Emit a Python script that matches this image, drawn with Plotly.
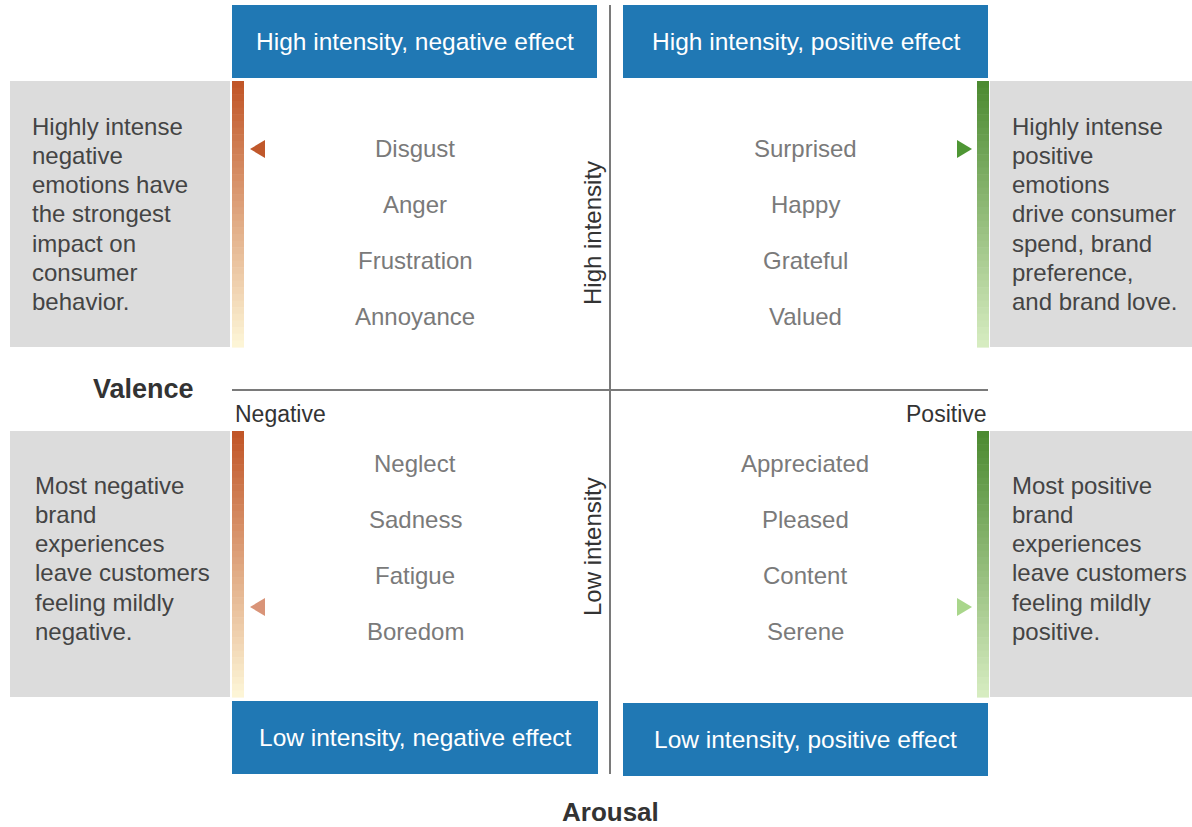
import plotly.graph_objects as go

W, H = 1192, 827
FONT = "Liberation Sans, Arial, sans-serif"

# ---- content ----
quadrant_titles = ["High intensity, negative effect", "High intensity, positive effect",
                   "Low intensity, negative effect", "Low intensity, positive effect"]
neg_high = ["Disgust", "Anger", "Frustration", "Annoyance"]
pos_high = ["Surprised", "Happy", "Grateful", "Valued"]
neg_low = ["Neglect", "Sadness", "Fatigue", "Boredom"]
pos_low = ["Appreciated", "Pleased", "Content", "Serene"]
note_neg_high = ["Highly intense", "negative", "emotions have", "the strongest",
                 "impact on", "consumer", "behavior."]
note_pos_high = ["Highly intense", "positive", "emotions", "drive consumer",
                 "spend, brand", "preference,", "and brand love."]
note_neg_low = ["Most negative", "brand", "experiences", "leave customers",
                "feeling mildly", "negative."]
note_pos_low = ["Most positive", "brand", "experiences", "leave customers",
                "feeling mildly", "positive."]
axis_labels = {"valence": "Valence", "arousal": "Arousal", "neg": "Negative", "pos": "Positive",
               "high": "High intensity", "low": "Low intensity"}

BLUE = "#2078b4"
GRAY = "#dcdcdc"
ORANGE_TOP, ORANGE_BOT = (193, 86, 40), (253, 245, 214)
GREEN_TOP, GREEN_BOT = (76, 138, 49), (214, 236, 192)

fig = go.Figure()
shapes = []
ann = []

def rect(x0, y0, x1, y1, color):
    shapes.append(dict(type="rect", xref="x", yref="y", x0=x0, x1=x1, y0=y0, y1=y1,
                       fillcolor=color, line=dict(width=0), layer="below"))

def grad_bar(x0, x1, y0, y1, top, bot, n=40):
    h = (y1 - y0) / n
    for i in range(n):
        t = i / (n - 1)
        c = tuple(round(top[k] + (bot[k] - top[k]) * t) for k in range(3))
        rect(x0, y0 + i * h, x1, y0 + (i + 1) * h + 0.6, "rgb(%d,%d,%d)" % c)

# blue title boxes
boxes = [(232, 5, 597, 78), (623, 5, 988, 78), (232, 701, 598, 774), (623, 703, 988, 776)]
for (x0, y0, x1, y1), t in zip(boxes, quadrant_titles):
    rect(x0, y0, x1, y1, BLUE)
    ann.append(dict(x=(x0 + x1) / 2, y=(y0 + y1) / 2, text=t, showarrow=False,
                    font=dict(family=FONT, size=24.5, color="white"), xanchor="center", yanchor="middle"))

# gray note boxes
gray_boxes = [(10, 81, 230, 347), (990, 81, 1192, 347), (10, 431, 230, 697), (990, 431, 1192, 697)]
notes = [note_neg_high, note_pos_high, note_neg_low, note_pos_low]
note_x = [30, 1010, 33, 1010]
note_y0 = [126, 126, 485, 485]
LINE = 29.3
for (x0, y0, x1, y1), lines, nx, ny in zip(gray_boxes, notes, note_x, note_y0):
    rect(x0, y0, x1, y1, GRAY)
    for i, ln in enumerate(lines):
        ann.append(dict(x=nx, y=ny + i * LINE, text=ln, showarrow=False, align="left",
                        font=dict(family=FONT, size=24, color="#444444"),
                        xanchor="left", yanchor="middle"))

# gradient bars
grad_bar(232, 244, 81, 347, ORANGE_TOP, ORANGE_BOT)
grad_bar(232, 244, 431, 697, ORANGE_TOP, ORANGE_BOT)
grad_bar(977, 989, 81, 347, GREEN_TOP, GREEN_BOT)
grad_bar(977, 989, 431, 697, GREEN_TOP, GREEN_BOT)

# axes lines
shapes.append(dict(type="line", xref="x", yref="y", x0=610, x1=610, y0=5, y1=774,
                   line=dict(color="#7a7a7a", width=2)))
shapes.append(dict(type="line", xref="x", yref="y", x0=232, x1=988, y0=390, y1=390,
                   line=dict(color="#7a7a7a", width=2)))

# triangles
def tri(xtip, y, direction, color, w=15, h=18):
    if direction == "left":
        path = f"M {xtip},{y} L {xtip + w},{y - h/2} L {xtip + w},{y + h/2} Z"
    else:
        path = f"M {xtip},{y} L {xtip - w},{y - h/2} L {xtip - w},{y + h/2} Z"
    shapes.append(dict(type="path", xref="x", yref="y", path=path, fillcolor=color, line=dict(width=0)))

tri(250, 149, "left", "#c0582b")
tri(250, 607, "left", "#d99478")
tri(972, 149, "right", "#4e9634")
tri(972, 607, "right", "#a9d68b")

# emotion words
rows_high = [148, 204, 260, 316]
rows_low = [463, 519, 575, 631]
for words, cx, rows in [(neg_high, 415, rows_high), (pos_high, 805, rows_high),
                        (neg_low, 415, rows_low), (pos_low, 805, rows_low)]:
    for w, y in zip(words, rows):
        ann.append(dict(x=cx, y=y, text=w, showarrow=False,
                        font=dict(family=FONT, size=24, color="#7a7a7a"), xanchor="center", yanchor="middle"))

# axis labels
ann.append(dict(x=592, y=233, text=axis_labels["high"], textangle=-90, showarrow=False,
                font=dict(family=FONT, size=24, color="#333333"), xanchor="center", yanchor="middle"))
ann.append(dict(x=592, y=547, text=axis_labels["low"], textangle=-90, showarrow=False,
                font=dict(family=FONT, size=24, color="#333333"), xanchor="center", yanchor="middle"))
ann.append(dict(x=143, y=389, text="<b>" + axis_labels["valence"] + "</b>", showarrow=False,
                font=dict(family=FONT, size=27, color="#333333"), xanchor="center", yanchor="middle"))
ann.append(dict(x=610, y=812, text="<b>" + axis_labels["arousal"] + "</b>", showarrow=False,
                font=dict(family=FONT, size=26, color="#333333"), xanchor="center", yanchor="middle"))
ann.append(dict(x=233, y=414, text=axis_labels["neg"], showarrow=False,
                font=dict(family=FONT, size=23, color="#333333"), xanchor="left", yanchor="middle"))
ann.append(dict(x=989, y=414, text=axis_labels["pos"], showarrow=False,
                font=dict(family=FONT, size=23, color="#333333"), xanchor="right", yanchor="middle"))

fig.update_layout(
    width=W, height=H, autosize=False,
    margin=dict(l=0, r=0, t=0, b=0),
    paper_bgcolor="white", plot_bgcolor="white",
    xaxis=dict(range=[0, W], visible=False, fixedrange=True),
    yaxis=dict(range=[H, 0], visible=False, fixedrange=True),
    shapes=shapes, annotations=ann, showlegend=False,
)
fig.write_html("out.html", config={"displayModeBar": False},
               post_script="document.body.style.margin='0';document.body.style.overflow='hidden';")
